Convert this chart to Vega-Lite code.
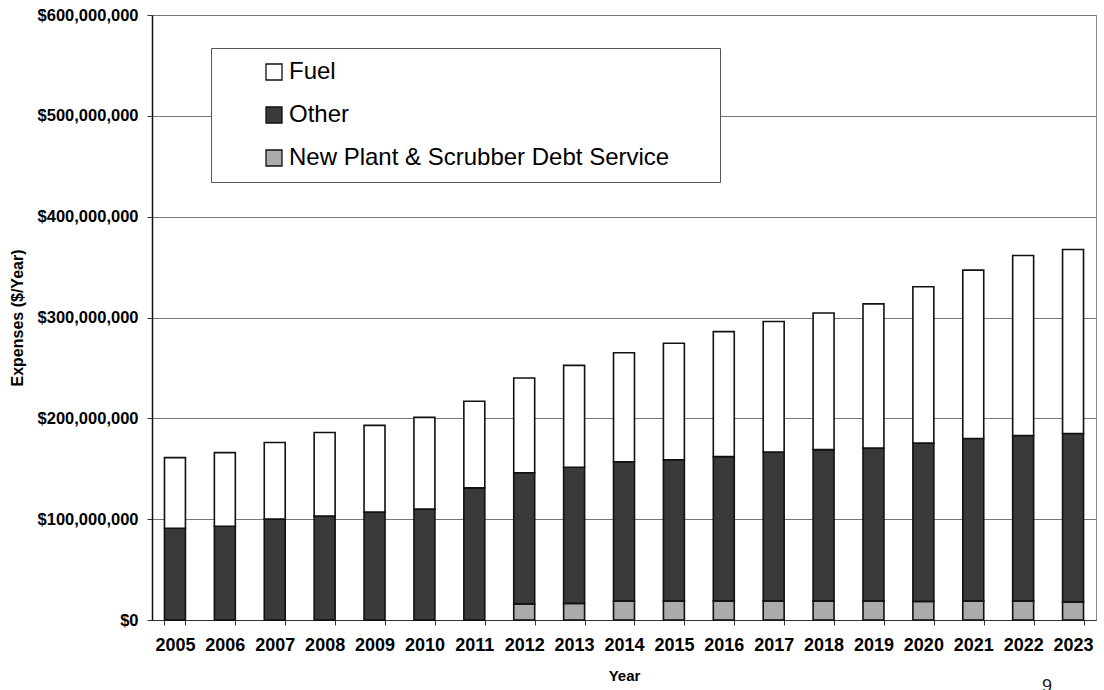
{
  "$schema": "https://vega.github.io/schema/vega-lite/v6.json",
  "width": 944,
  "height": 605,
  "autosize": {"type": "none"},
  "padding": {"left": 152, "top": 15, "right": 8, "bottom": 70},
  "background": "white",
  "config": {
    "font": "Liberation Sans",
    "view": {"stroke": "#8a8a8a", "strokeWidth": 1}
  },
  "title": {
    "text": "9",
    "orient": "bottom",
    "anchor": "end",
    "fontSize": 18,
    "fontWeight": "normal",
    "font": "Liberation Sans",
    "color": "#222",
    "offset": -5,
    "dx": -44
  },
  "data": {
    "values": [
      {"year": "2005", "category": "New Plant & Scrubber Debt Service", "value": 0, "ord": 1},
      {"year": "2005", "category": "Other", "value": 91000000, "ord": 2},
      {"year": "2005", "category": "Fuel", "value": 70000000, "ord": 3},
      {"year": "2006", "category": "New Plant & Scrubber Debt Service", "value": 0, "ord": 1},
      {"year": "2006", "category": "Other", "value": 93000000, "ord": 2},
      {"year": "2006", "category": "Fuel", "value": 73000000, "ord": 3},
      {"year": "2007", "category": "New Plant & Scrubber Debt Service", "value": 0, "ord": 1},
      {"year": "2007", "category": "Other", "value": 100000000, "ord": 2},
      {"year": "2007", "category": "Fuel", "value": 76000000, "ord": 3},
      {"year": "2008", "category": "New Plant & Scrubber Debt Service", "value": 0, "ord": 1},
      {"year": "2008", "category": "Other", "value": 103000000, "ord": 2},
      {"year": "2008", "category": "Fuel", "value": 83000000, "ord": 3},
      {"year": "2009", "category": "New Plant & Scrubber Debt Service", "value": 0, "ord": 1},
      {"year": "2009", "category": "Other", "value": 107000000, "ord": 2},
      {"year": "2009", "category": "Fuel", "value": 86000000, "ord": 3},
      {"year": "2010", "category": "New Plant & Scrubber Debt Service", "value": 0, "ord": 1},
      {"year": "2010", "category": "Other", "value": 110000000, "ord": 2},
      {"year": "2010", "category": "Fuel", "value": 91000000, "ord": 3},
      {"year": "2011", "category": "New Plant & Scrubber Debt Service", "value": 0, "ord": 1},
      {"year": "2011", "category": "Other", "value": 131000000, "ord": 2},
      {"year": "2011", "category": "Fuel", "value": 86000000, "ord": 3},
      {"year": "2012", "category": "New Plant & Scrubber Debt Service", "value": 16000000, "ord": 1},
      {"year": "2012", "category": "Other", "value": 130000000, "ord": 2},
      {"year": "2012", "category": "Fuel", "value": 94000000, "ord": 3},
      {"year": "2013", "category": "New Plant & Scrubber Debt Service", "value": 16500000, "ord": 1},
      {"year": "2013", "category": "Other", "value": 135000000, "ord": 2},
      {"year": "2013", "category": "Fuel", "value": 101000000, "ord": 3},
      {"year": "2014", "category": "New Plant & Scrubber Debt Service", "value": 19000000, "ord": 1},
      {"year": "2014", "category": "Other", "value": 138000000, "ord": 2},
      {"year": "2014", "category": "Fuel", "value": 108000000, "ord": 3},
      {"year": "2015", "category": "New Plant & Scrubber Debt Service", "value": 19000000, "ord": 1},
      {"year": "2015", "category": "Other", "value": 140000000, "ord": 2},
      {"year": "2015", "category": "Fuel", "value": 115500000, "ord": 3},
      {"year": "2016", "category": "New Plant & Scrubber Debt Service", "value": 19000000, "ord": 1},
      {"year": "2016", "category": "Other", "value": 143000000, "ord": 2},
      {"year": "2016", "category": "Fuel", "value": 124000000, "ord": 3},
      {"year": "2017", "category": "New Plant & Scrubber Debt Service", "value": 19000000, "ord": 1},
      {"year": "2017", "category": "Other", "value": 147500000, "ord": 2},
      {"year": "2017", "category": "Fuel", "value": 129500000, "ord": 3},
      {"year": "2018", "category": "New Plant & Scrubber Debt Service", "value": 19000000, "ord": 1},
      {"year": "2018", "category": "Other", "value": 150000000, "ord": 2},
      {"year": "2018", "category": "Fuel", "value": 135500000, "ord": 3},
      {"year": "2019", "category": "New Plant & Scrubber Debt Service", "value": 19000000, "ord": 1},
      {"year": "2019", "category": "Other", "value": 151500000, "ord": 2},
      {"year": "2019", "category": "Fuel", "value": 143000000, "ord": 3},
      {"year": "2020", "category": "New Plant & Scrubber Debt Service", "value": 18500000, "ord": 1},
      {"year": "2020", "category": "Other", "value": 157000000, "ord": 2},
      {"year": "2020", "category": "Fuel", "value": 155000000, "ord": 3},
      {"year": "2021", "category": "New Plant & Scrubber Debt Service", "value": 19000000, "ord": 1},
      {"year": "2021", "category": "Other", "value": 161000000, "ord": 2},
      {"year": "2021", "category": "Fuel", "value": 167000000, "ord": 3},
      {"year": "2022", "category": "New Plant & Scrubber Debt Service", "value": 19000000, "ord": 1},
      {"year": "2022", "category": "Other", "value": 164000000, "ord": 2},
      {"year": "2022", "category": "Fuel", "value": 178500000, "ord": 3},
      {"year": "2023", "category": "New Plant & Scrubber Debt Service", "value": 18000000, "ord": 1},
      {"year": "2023", "category": "Other", "value": 167000000, "ord": 2},
      {"year": "2023", "category": "Fuel", "value": 182500000, "ord": 3}
    ]
  },
  "mark": {"type": "bar", "stroke": "#111", "strokeWidth": 1.6},
  "encoding": {
    "x": {
      "field": "year",
      "type": "ordinal",
      "scale": {"paddingInner": 0.58, "paddingOuter": 0.25},
      "axis": {
        "title": "Year",
        "titleFontSize": 15,
        "titleFontWeight": "bold",
        "titleColor": "#000",
        "titlePadding": 14,
        "labelAngle": 0,
        "labelFontSize": 18,
        "labelFontWeight": "bold",
        "labelColor": "#000",
        "labelPadding": 11,
        "tickBand": "extent",
        "tickSize": 5,
        "tickColor": "#333",
        "domainColor": "#333",
        "domainWidth": 1.2
      }
    },
    "y": {
      "field": "value",
      "type": "quantitative",
      "stack": "zero",
      "scale": {"domain": [0, 600000000], "nice": false},
      "axis": {
        "title": "Expenses ($/Year)",
        "titleFontSize": 16,
        "titleFontWeight": "bold",
        "titleColor": "#000",
        "titlePadding": 12,
        "format": "$,.0f",
        "values": [0, 100000000, 200000000, 300000000, 400000000, 500000000, 600000000],
        "labelFontSize": 16.5,
        "labelFontWeight": "bold",
        "labelColor": "#000",
        "labelPadding": 9,
        "tickSize": 5,
        "tickColor": "#333",
        "domainColor": "#111",
        "domainWidth": 1.5,
        "gridColor": "#777",
        "gridWidth": 1
      }
    },
    "color": {
      "field": "category",
      "type": "nominal",
      "sort": ["Fuel", "Other", "New Plant & Scrubber Debt Service"],
      "scale": {
        "domain": ["Fuel", "Other", "New Plant & Scrubber Debt Service"],
        "range": ["#ffffff", "#3a3a3a", "#ababab"]
      },
      "legend": {
        "title": " ",
        "titleOrient": "right",
        "titleFontSize": 1,
        "titlePadding": 39,
        "orient": "none",
        "legendX": 59,
        "legendY": 33,
        "padding": 12,
        "symbolOffset": 39,
        "fillColor": "white",
        "strokeColor": "#555",
        "symbolType": "square",
        "symbolSize": 256,
        "symbolStrokeColor": "#111",
        "symbolStrokeWidth": 1.3,
        "symbolOpacity": 1,
        "labelFontSize": 24,
        "labelColor": "#000",
        "labelOffset": 3,
        "labelLimit": 700,
        "rowPadding": 19
      }
    },
    "order": {"field": "ord", "type": "quantitative"}
  }
}
